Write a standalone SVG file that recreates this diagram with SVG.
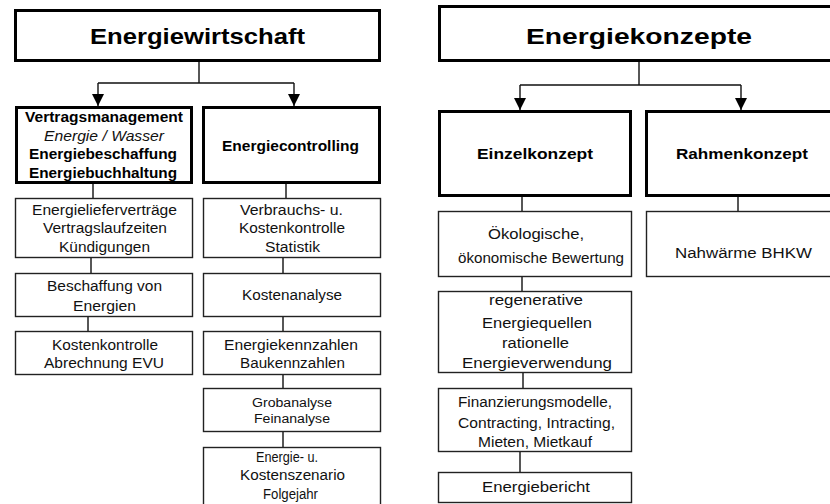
<svg xmlns="http://www.w3.org/2000/svg" width="830" height="504" viewBox="0 0 830 504">
<style>
.thick{fill:#fff;stroke:#000;stroke-width:3}
.thin{fill:#fff;stroke:#222;stroke-width:1.4}
.con{fill:none;stroke:#111;stroke-width:1.4}
text{font-family:"Liberation Sans",Arial,sans-serif;text-anchor:middle;fill:#111}
.t{font-size:22px;font-weight:bold;fill:#000}
.b{font-size:14px;font-weight:bold;fill:#000}
.i{font-size:14px;font-style:italic}
.r{font-size:14px}
.s{font-size:12px}
</style>
<defs>
<marker id="ah" markerUnits="userSpaceOnUse" markerWidth="12" markerHeight="12" viewBox="0 0 12 12" refX="12" refY="6" orient="auto">
<path d="M0,0 L12,6 L0,12 Z" fill="#000"/>
</marker>
</defs>
<rect width="830" height="504" fill="#fff"/>
<g id="connectors">
<path class="con" d="M199,62 V83 M98,83 H294"/>
<path class="con" d="M98,83 V106" marker-end="url(#ah)"/>
<path class="con" d="M294,83 V106" marker-end="url(#ah)"/>
<path class="con" d="M93,184 V198 M91,258 V273 M88,317 V331"/>
<path class="con" d="M286,184 V198 M283,258 V273 M283,317 V331 M283,375 V388 M283,432 V447"/>
<path class="con" d="M639,62 V85 M520,85 H741"/>
<path class="con" d="M520,85 V110" marker-end="url(#ah)"/>
<path class="con" d="M741,85 V110" marker-end="url(#ah)"/>
<path class="con" d="M522,197 V211 M522,276 V291 M523,373 V388 M520,451 V472"/>
<path class="con" d="M738,197 V211"/>
</g>
<g id="energiewirtschaft">
<rect class="thick" x="15.5" y="10.5" width="364" height="50"/>
<text class="t" x="197.5" y="44" textLength="215" lengthAdjust="spacingAndGlyphs">Energiewirtschaft</text>
</g>
<g id="vertragsmanagement">
<rect class="thick" x="16.5" y="107.5" width="175" height="75"/>
<text class="b" x="104" y="122" textLength="158" lengthAdjust="spacingAndGlyphs">Vertragsmanagement</text>
<text class="i" x="104" y="141" textLength="120" lengthAdjust="spacingAndGlyphs">Energie / Wasser</text>
<text class="b" x="103" y="159" textLength="148" lengthAdjust="spacingAndGlyphs">Energiebeschaffung</text>
<text class="b" x="103" y="178" textLength="148" lengthAdjust="spacingAndGlyphs">Energiebuchhaltung</text>
</g>
<g id="energiecontrolling">
<rect class="thick" x="203.5" y="107.5" width="176" height="75"/>
<text class="b" x="290.5" y="151" textLength="137" lengthAdjust="spacingAndGlyphs">Energiecontrolling</text>
</g>
<g id="energielieferverträge">
<rect class="thin" x="15.5" y="198.5" width="177" height="59"/>
<text class="r" x="104.5" y="215" textLength="145" lengthAdjust="spacingAndGlyphs">Energielieferverträge</text>
<text class="r" x="105" y="233" textLength="124" lengthAdjust="spacingAndGlyphs">Vertragslaufzeiten</text>
<text class="r" x="104.5" y="252" textLength="91" lengthAdjust="spacingAndGlyphs">Kündigungen</text>
</g>
<g id="beschaffung">
<rect class="thin" x="15.5" y="273.5" width="177" height="43"/>
<text class="r" x="104.5" y="291" textLength="115" lengthAdjust="spacingAndGlyphs">Beschaffung von</text>
<text class="r" x="104.5" y="311" textLength="63" lengthAdjust="spacingAndGlyphs">Energien</text>
</g>
<g id="kostenkontrolle-evu">
<rect class="thin" x="15.5" y="331.5" width="177" height="43"/>
<text class="r" x="105" y="350" textLength="106" lengthAdjust="spacingAndGlyphs">Kostenkontrolle</text>
<text class="r" x="104" y="368" textLength="120" lengthAdjust="spacingAndGlyphs">Abrechnung EVU</text>
</g>
<g id="verbrauch">
<rect class="thin" x="203.5" y="198.5" width="177" height="59"/>
<text class="r" x="291.5" y="215" textLength="103" lengthAdjust="spacingAndGlyphs">Verbrauchs- u.</text>
<text class="r" x="292" y="233" textLength="106" lengthAdjust="spacingAndGlyphs">Kostenkontrolle</text>
<text class="r" x="292.5" y="252" textLength="55" lengthAdjust="spacingAndGlyphs">Statistik</text>
</g>
<g id="kostenanalyse">
<rect class="thin" x="203.5" y="273.5" width="177" height="43"/>
<text class="r" x="292" y="300" textLength="100" lengthAdjust="spacingAndGlyphs">Kostenanalyse</text>
</g>
<g id="kennzahlen">
<rect class="thin" x="203.5" y="331.5" width="177" height="43"/>
<text class="r" x="291" y="350" textLength="134" lengthAdjust="spacingAndGlyphs">Energiekennzahlen</text>
<text class="r" x="292.5" y="368" textLength="105" lengthAdjust="spacingAndGlyphs">Baukennzahlen</text>
</g>
<g id="grobanalyse">
<rect class="thin" x="203.5" y="388.5" width="177" height="43"/>
<text class="s" x="292" y="407" textLength="80" lengthAdjust="spacingAndGlyphs">Grobanalyse</text>
<text class="s" x="292" y="423" textLength="76" lengthAdjust="spacingAndGlyphs">Feinanalyse</text>
</g>
<g id="szenario">
<rect class="thin" x="203.5" y="447.5" width="177" height="70"/>
<text class="r" x="287" y="462" textLength="62" lengthAdjust="spacingAndGlyphs">Energie- u.</text>
<text class="r" x="292.5" y="480" textLength="105" lengthAdjust="spacingAndGlyphs">Kostenszenario</text>
<text class="r" x="290.5" y="499" textLength="55" lengthAdjust="spacingAndGlyphs">Folgejahr</text>
</g>
<g id="energiekonzepte">
<rect class="thick" x="439.5" y="6.5" width="400" height="54"/>
<text class="t" x="639" y="44" font-size="23" textLength="226" lengthAdjust="spacingAndGlyphs">Energiekonzepte</text>
</g>
<g id="einzelkonzept">
<rect class="thick" x="439.5" y="111.5" width="191" height="84"/>
<text class="b" x="535" y="159" textLength="116" lengthAdjust="spacingAndGlyphs">Einzelkonzept</text>
</g>
<g id="rahmenkonzept">
<rect class="thick" x="646.5" y="111.5" width="200" height="84"/>
<text class="b" x="742" y="159" textLength="132" lengthAdjust="spacingAndGlyphs">Rahmenkonzept</text>
</g>
<g id="bewertung">
<rect class="thin" x="438.5" y="211.5" width="193" height="65"/>
<text class="r" x="536" y="239" textLength="96" lengthAdjust="spacingAndGlyphs">Ökologische,</text>
<text class="r" x="541" y="263" textLength="166" lengthAdjust="spacingAndGlyphs">ökonomische Bewertung</text>
</g>
<g id="regenerative">
<rect class="thin" x="438.5" y="291.5" width="193" height="81"/>
<text class="r" x="536" y="305" textLength="94" lengthAdjust="spacingAndGlyphs">regenerative</text>
<text class="r" x="537" y="328" textLength="110" lengthAdjust="spacingAndGlyphs">Energiequellen</text>
<text class="r" x="535.5" y="348" textLength="67" lengthAdjust="spacingAndGlyphs">rationelle</text>
<text class="r" x="537" y="368" textLength="150" lengthAdjust="spacingAndGlyphs">Energieverwendung</text>
</g>
<g id="finanzierung">
<rect class="thin" x="438.5" y="388.5" width="193" height="63"/>
<text class="r" x="535" y="407" textLength="154" lengthAdjust="spacingAndGlyphs">Finanzierungsmodelle,</text>
<text class="r" x="536.5" y="428" textLength="157" lengthAdjust="spacingAndGlyphs">Contracting, Intracting,</text>
<text class="r" x="535" y="447" textLength="114" lengthAdjust="spacingAndGlyphs">Mieten, Mietkauf</text>
</g>
<g id="energiebericht">
<rect class="thin" x="438.5" y="472.5" width="193" height="30"/>
<text class="r" x="536" y="492" textLength="108" lengthAdjust="spacingAndGlyphs">Energiebericht</text>
</g>
<g id="nahwaerme">
<rect class="thin" x="646.5" y="211.5" width="200" height="65"/>
<text class="r" x="743.5" y="258" textLength="137" lengthAdjust="spacingAndGlyphs">Nahwärme BHKW</text>
</g>
</svg>
